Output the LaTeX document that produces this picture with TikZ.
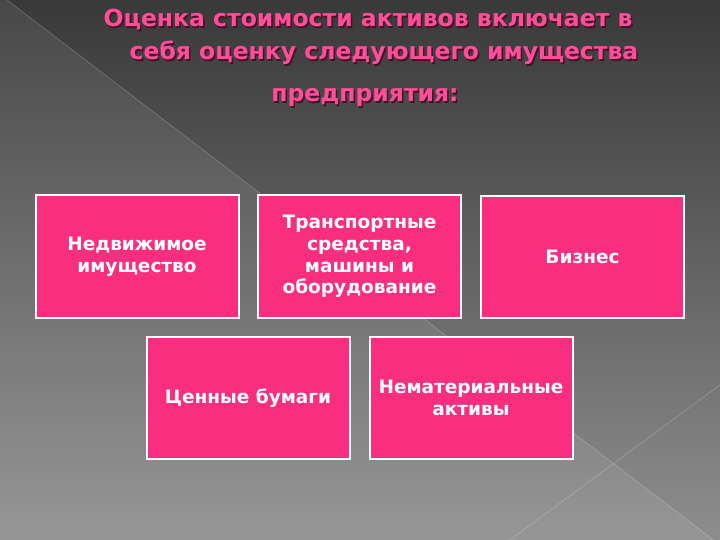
\documentclass[tikz,border=0pt]{standalone}
\usepackage{fontspec}
\setmainfont{DejaVu Sans}
\newfontfamily\titlefont{DejaVu Sans}
\definecolor{boxpink}{HTML}{F92E7E}
\definecolor{titlepink}{HTML}{FF4E98}
\definecolor{titleshadow}{HTML}{4A0E28}
\definecolor{bgtop}{HTML}{393939}
\definecolor{bgbot}{HTML}{8E8E8E}
\tikzset{
  assetbox/.style={draw=white, line width=2pt, fill=boxpink, text=white,
    minimum width=203pt, minimum height=122pt, align=center, inner sep=2pt,
    font=\fontsize{18.5}{21.7}\selectfont\bfseries},
  titleline/.style={text=titlepink, anchor=base, inner sep=0pt,
    font=\titlefont\fontsize{23.5}{28}\selectfont\bfseries},
  titleshade/.style={text=titleshadow, anchor=base, inner sep=0pt,
    font=\titlefont\fontsize{23.5}{28}\selectfont\bfseries},
  bgline/.style={draw=white, opacity=0.18, line width=0.8pt}
}
\begin{document}
\begin{tikzpicture}[x=1pt,y=-1pt]
\useasboundingbox (0,0) rectangle (720,540);
% background
\shade[top color=bgtop, bottom color=bgbot] (0,0) rectangle (720,540);
\fill[white, opacity=0.08] (0,0) -- (7,0) -- (720,545) -- (0,545) -- cycle;
\coordinate (d1a) at (7,0);
\coordinate (d1b) at (720,545);
\coordinate (d2a) at (720,385);
\coordinate (d2b) at (510,540);
\draw[bgline] (d1a) -- (d1b);
\draw[bgline] (d2a) -- (d2b);
% title
\node[titleshade] (t1s) at (369.5,28.5) {Оценка стоимости активов включает в};
\node[titleline] (t1) at (368,27) {Оценка стоимости активов включает в};
\node[titleshade] (t2s) at (385.5,61.5) {себя оценку следующего имущества};
\node[titleline] (t2) at (384,60) {себя оценку следующего имущества};
\node[titleshade] (t3s) at (366.5,103.5) {предприятия:};
\node[titleline] (t3) at (365,102) {предприятия:};
% boxes
\node[assetbox] (b1) at (137,256.5) {Недвижимое\\имущество};
\node[assetbox] (b2) at (359.5,256.5) {Транспортные\\средства,\\машины и\\оборудование};
\node[assetbox] (b3) at (582.5,257) {Бизнес};
\node[assetbox] (b4) at (248,398) {Ценные бумаги};
\node[assetbox] (b5) at (471,398) {Нематериальные\\активы};
\end{tikzpicture}
\end{document}
